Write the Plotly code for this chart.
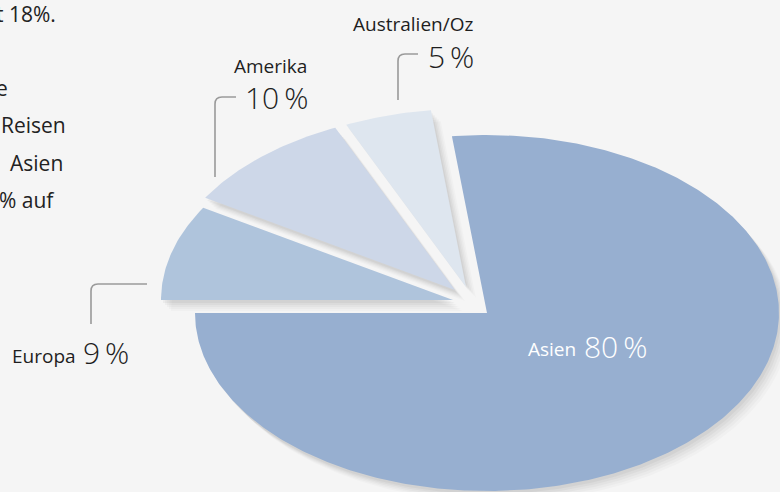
import numpy as np
import plotly.graph_objects as go

# ---- data ----
categories = ["Asien", "Europa", "Amerika", "Australien/Oz"]
values = [80, 9, 10, 5]
label_text = ["Asien", "Europa", "Amerika", "Australien/Oz"]
side_text = ["t 18%.", "e", "Reisen", "Asien", "% auf"]

# ---- style / layout ----
W, H = 780, 492
BG = "#f5f5f5"
colors = ["#97afd0", "#afc4dc", "#cdd7e8", "#dee6ef"]
CX, CY = 487, 313          # pie centre (px)
RA, RB = 292, 178          # ellipse radii (px)
ROT = -6.9                 # start angle in degrees (clockwise from 12 o'clock)
explode = [(0, 0), (-34, -13), (-32, -23), (-21, -26)]
FONT = "Open Sans"

total = sum(values)
angles = np.cumsum([0] + values) / total * 360.0 + ROT


def slice_xy(i, dx=0.0, dy=0.0):
    a0, a1 = np.radians(angles[i]), np.radians(angles[i + 1])
    n = max(12, int((angles[i + 1] - angles[i]) * 1.5))
    t = np.linspace(a0, a1, n)
    ox, oy = explode[i]
    cx, cy = CX + ox + dx, CY + oy + dy
    xs = np.concatenate([[cx], cx + RA * np.sin(t), [cx]])
    ys = np.concatenate([[cy], cy - RB * np.cos(t), [cy]])
    return xs, ys


fig = go.Figure()

# soft drop shadows
for sx, sy, op in [(10, 11, 0.018), (8, 9, 0.022), (6, 7, 0.027), (4, 5, 0.032), (2, 3, 0.04)]:
    for i in range(len(values)):
        xs, ys = slice_xy(i, sx, sy)
        fig.add_trace(go.Scatter(x=xs, y=ys, fill="toself", mode="lines",
                                 line=dict(width=0), fillcolor=f"rgba(0,0,0,{op})",
                                 hoverinfo="skip", showlegend=False))

for i, cat in enumerate(categories):
    xs, ys = slice_xy(i)
    fig.add_trace(go.Scatter(x=xs, y=ys, fill="toself", mode="lines",
                             line=dict(width=0, color=colors[i]), fillcolor=colors[i],
                             name=cat, hoverinfo="name", showlegend=False))

# leader lines (rounded corners)
lc = "#9a9a9a"
paths = [
    "M 91 324 L 91 291 Q 91 284 98 284 L 147 284",      # Europa
    "M 215 177 L 215 104 Q 215 97 222 97 L 236 97",     # Amerika
    "M 398 100 L 398 61 Q 398 54 405 54 L 418 54",      # Australien
]
shapes = [dict(type="path", path=p, xref="x", yref="y",
               line=dict(color=lc, width=1.6)) for p in paths]

ann = []
def add(text, x, y, size, color="#1e1e1e", xanchor="left", weight=400):
    ann.append(dict(text=text, x=x, y=y, xref="x", yref="y", showarrow=False,
                    xanchor=xanchor, yanchor="middle", borderpad=0,
                    font=dict(family=FONT, size=size, color=color, weight=weight)))

pct = [f"{v}\u2009%" for v in values]
NS = 30
# Asien (inside)
add(label_text[0], 577, 349, 19, "#ffffff", "right")
add(pct[0], 583, 346, NS, "#ffffff", "left", 300)
# Europa
add(label_text[1], 77, 356, 19, "#1e1e1e", "right")
add(pct[1], 82, 352, NS, "#1e1e1e", "left", 300)
# Amerika
add(label_text[2], 308, 66, 19, "#1e1e1e", "right")
add(pct[2], 309, 97, NS, "#1e1e1e", "right", 300)
# Australien/Oz
add(label_text[3], 474, 24, 19, "#1e1e1e", "right")
add(pct[3], 475, 56, NS, "#1e1e1e", "right", 300)

# cropped paragraph on the left
side_pos = [(57, 14), (9, 88), (67, 125), (64, 163), (56, 200)]
for txt, (x, y) in zip(side_text, side_pos):
    add(txt, x, y, 21, "#222222", "right")

fig.update_layout(
    width=W, height=H, margin=dict(l=0, r=0, t=0, b=0),
    paper_bgcolor=BG, plot_bgcolor=BG,
    xaxis=dict(range=[0, W], visible=False, fixedrange=True),
    yaxis=dict(range=[H, 0], visible=False, fixedrange=True),
    shapes=shapes, annotations=ann, showlegend=False,
)
fig.write_html("out.html", config={"displayModeBar": False},
               post_script="document.body.style.margin='0';document.body.style.background='%s';" % BG)
